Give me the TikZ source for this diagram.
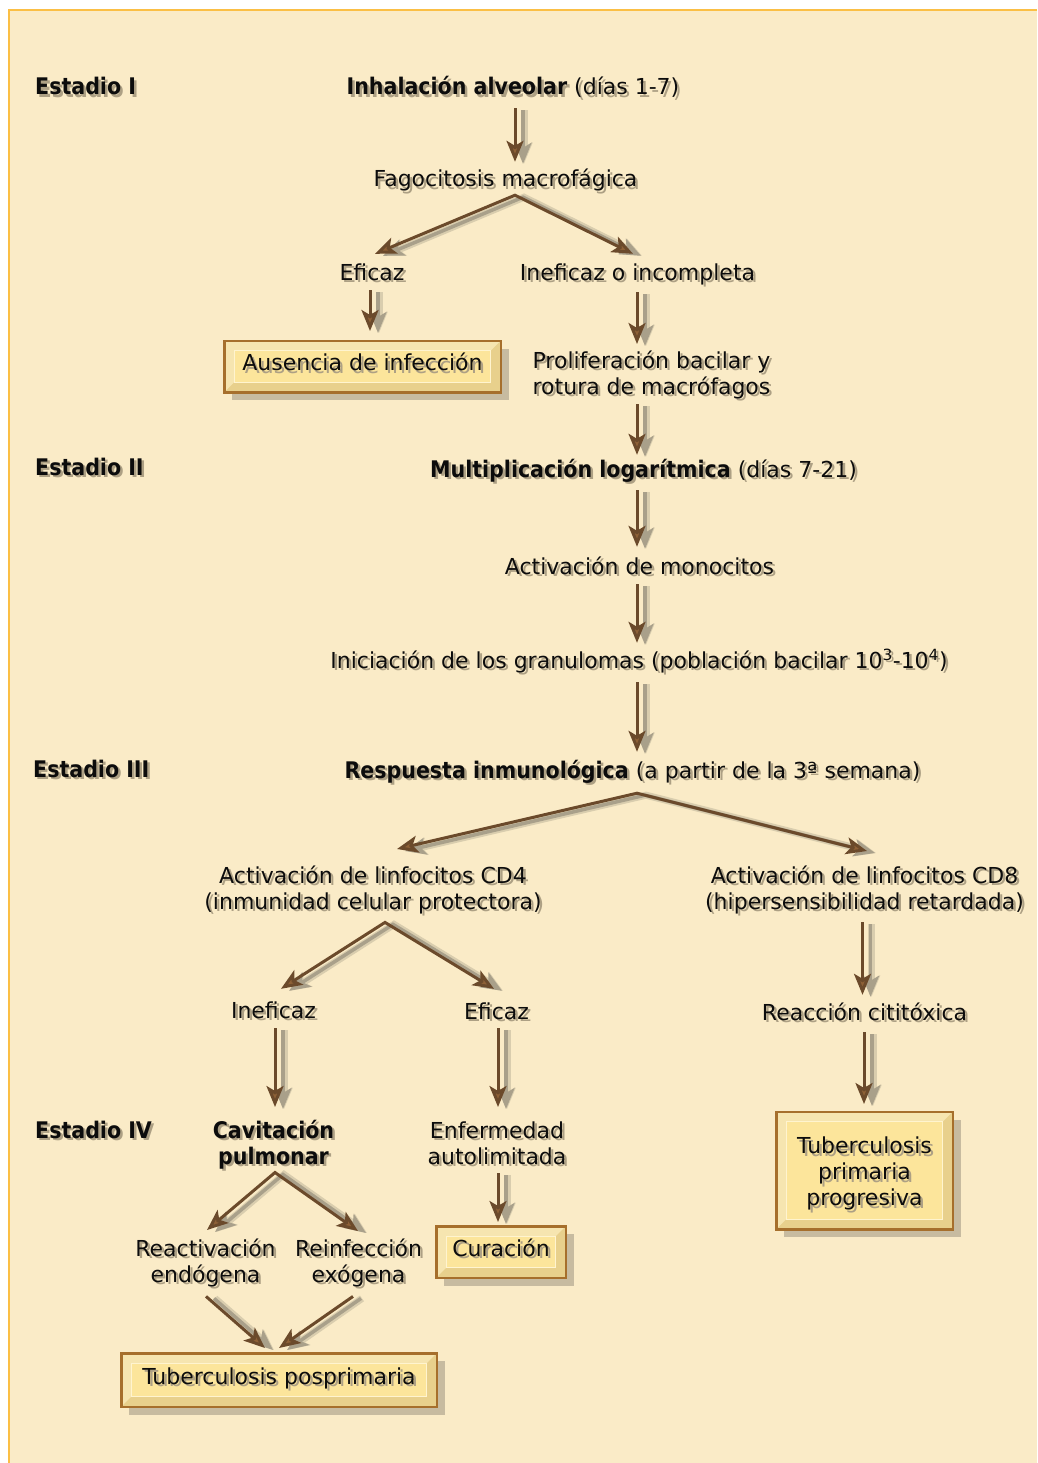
\documentclass[tikz,border=0pt]{standalone}
\usepackage{fontspec}
\setmainfont{DejaVu Sans}[BoldFont={DejaVu Sans Condensed Bold},BoldFeatures={Scale=1.04}]
\usetikzlibrary{arrows.meta,shadows,calc}

\definecolor{bgcream}{HTML}{FAEBC7}
\definecolor{edgeline}{HTML}{FBBF45}
\definecolor{ink}{HTML}{0C0C0C}
\definecolor{arrbrown}{HTML}{6B4A2B}
\definecolor{headbrown}{HTML}{8E6137}
\definecolor{tshadow}{HTML}{ADA084}
\definecolor{ashadow}{HTML}{A9A08A}
\definecolor{ashadowsoft}{HTML}{D9CDAE}
\definecolor{frame}{HTML}{A66F2C}
\definecolor{bevellight}{HTML}{F6E5B0}
\definecolor{beveldark}{HTML}{E8D08C}
\definecolor{boxin}{HTML}{FCE59B}
\definecolor{innerline}{HTML}{FFF4CF}
\definecolor{boxshadow}{HTML}{A59C86}

\newcommand\fs{\fontsize{22}{26}\selectfont}
% text with a soft drop shadow
\newcommand\shd[1]{\leavevmode\rlap{\kern2.5pt\raisebox{-2.5pt}{\color{tshadow}#1}}#1\strut}

\begin{document}
\begin{tikzpicture}[x=1pt,y=-1pt,
  one/.style={inner sep=0pt, anchor=base, font=\fs, text=ink, text height=16pt, text depth=5pt},
  two/.style={inner sep=0pt, anchor=north, align=center, font=\fs, text=ink},
  stage/.style={inner sep=0pt, anchor=base west, font=\fs\bfseries, text=ink},
  arr/.style={draw=arrbrown, line width=3pt, -{Stealth[length=21pt,width=17pt,inset=5pt,fill=headbrown]},
    preaction={draw=ashadowsoft, line width=7pt, -{Stealth[length=21pt,width=17pt,inset=5pt,fill=ashadowsoft]},
      transform canvas={shift={(9pt,-2pt)}}},
    preaction={draw=ashadow, line width=3.5pt, -{Stealth[length=21pt,width=17pt,inset=5pt,fill=ashadow]},
      transform canvas={shift={(8pt,-2pt)}}}},
  fork/.style={draw=arrbrown, line width=3pt, line join=miter,
    {Stealth[length=21pt,width=17pt,inset=5pt,fill=headbrown]}-{Stealth[length=21pt,width=17pt,inset=5pt,fill=headbrown]},
    preaction={draw=ashadowsoft, line width=7pt,
      {Stealth[length=21pt,width=17pt,inset=5pt,fill=ashadowsoft]}-{Stealth[length=21pt,width=17pt,inset=5pt,fill=ashadowsoft]},
      transform canvas={shift={(9pt,-2pt)}}},
    preaction={draw=ashadow, line width=3.5pt,
      {Stealth[length=21pt,width=17pt,inset=5pt,fill=ashadow]}-{Stealth[length=21pt,width=17pt,inset=5pt,fill=ashadow]},
      transform canvas={shift={(8pt,-2pt)}}}},
  bevelbox/.style={draw=frame, line width=2.5pt, fill=bevellight, font=\fs, text=ink,
    inner sep=0pt, text height=16pt, text depth=8pt,
    drop shadow={shadow xshift=8pt, shadow yshift=-8pt, fill=boxshadow, opacity=.6},
    path picture={
      \fill[beveldark] (path picture bounding box.south west)
        -- ([shift={(10pt,10pt)}]path picture bounding box.south west)
        -- ([shift={(-10pt,10pt)}]path picture bounding box.south east)
        -- ([shift={(-10pt,-10pt)}]path picture bounding box.north east)
        -- (path picture bounding box.north east)
        -- (path picture bounding box.south east) -- cycle;
      \draw[fill=boxin, draw=innerline, line width=1pt]
        ([shift={(10pt,-10pt)}]path picture bounding box.north west)
        rectangle ([shift={(-10pt,10pt)}]path picture bounding box.south east);
    }}
]
\useasboundingbox (0,0) rectangle (1037,1463);
% sheet
\fill[white] (0,0) rectangle (1037,1463);
\fill[bgcream] (9,10) rectangle (1037,1463);
\draw[edgeline, line width=1.5pt] (9,1463) -- (9,10) -- (1037,10);

% stages
\node[stage] (st1) at (35,95) {\shd{Estadio I}};
\node[stage] (st2) at (35,475) {\shd{Estadio II}};
\node[stage] (st3) at (33,777) {\shd{Estadio III}};
\node[stage] (st4) at (35,1138) {\shd{Estadio IV}};

% stage I
\node[one] (inh) at (513,95) {\shd{\textbf{Inhalación alveolar} (días 1-7)}};
\node[one] (fag) at (505.5,187) {\shd{Fagocitosis macrofágica}};
\node[one] (efi1) at (372,280) {\shd{Eficaz}};
\node[one] (inef1) at (637.5,280) {\shd{Ineficaz o incompleta}};
\node[bevelbox, minimum width=276.5pt, minimum height=51.5pt] (aus) at (362.5,366.5) {\shd{Ausencia de infección}};
\node[two] (prol) at (651.5,349.8) {\shd{Proliferación bacilar y}\\\shd{rotura de macrófagos}};

% stage II
\node[one] (mult) at (643.5,477) {\shd{\textbf{Multiplicación logarítmica} (días 7-21)}};
\node[one] (mono) at (639.5,574) {\shd{Activación de monocitos}};
\node[one] (gran) at (639,668) {\shd{Iniciación de los granulomas (población bacilar 10\textsuperscript{3}-10\textsuperscript{4})}};

% stage III
\node[one] (resp) at (632.5,778) {\shd{\textbf{Respuesta inmunológica} (a partir de la 3ª semana)}};
\node[two] (cd4) at (373,864.8) {\shd{Activación de linfocitos CD4}\\\shd{(inmunidad celular protectora)}};
\node[two] (cd8) at (864.5,864.8) {\shd{Activación de linfocitos CD8}\\\shd{(hipersensibilidad retardada)}};
\node[one] (inef2) at (273.5,1018) {\shd{Ineficaz}};
\node[one] (efi2) at (496.5,1019) {\shd{Eficaz}};
\node[one] (cito) at (864.5,1020) {\shd{Reacción cititóxica}};

% stage IV
\node[two] (cav) at (273.5,1119.8) {\shd{\textbf{Cavitación}}\\\shd{\textbf{pulmonar}}};
\node[two] (enf) at (497,1119.8) {\shd{Enfermedad}\\\shd{autolimitada}};
\node[bevelbox, minimum width=129.5pt, minimum height=51.5pt] (cur) at (501,1252) {\shd{Curación}};
\node[two] (react) at (205.5,1237.8) {\shd{Reactivación}\\\shd{endógena}};
\node[two] (reinf) at (358.5,1237.8) {\shd{Reinfección}\\\shd{exógena}};
\node[bevelbox, minimum width=315.5pt, minimum height=53.5pt] (pos) at (279,1380) {\shd{Tuberculosis posprimaria}};
\node[bevelbox, align=center, text height=70pt, text depth=0pt, minimum width=176.5pt, minimum height=117.5pt] (prog) at (864.5,1170.5)
  {\shd{Tuberculosis}\\\shd{primaria}\\\shd{progresiva}};

% connectors
\draw[arr] ([xshift=2pt,yshift=-8pt]inh.south) -- ([xshift=9.5pt,yshift=9pt]fag.north);
\coordinate (fagfork) at ([xshift=9.5pt,yshift=-3pt]fag.south);
\draw[fork] ([xshift=3pt,yshift=10pt]efi1.north) -- (fagfork) -- ([xshift=-4.5pt,yshift=10pt]inef1.north);
\draw[arr] ([xshift=-2pt,yshift=-5pt]efi1.south) -- ([xshift=7.5pt,yshift=8.5pt]aus.north);
\draw[arr] ([xshift=-0.5pt,yshift=-7pt]inef1.south) -- ([xshift=-14.5pt,yshift=5.8pt]prol.north);
\draw[arr] ([xshift=-14.5pt,yshift=-2.2pt]prol.south) -- ([xshift=-6.5pt,yshift=6pt]mult.north);
\draw[arr] ([xshift=-6.5pt,yshift=-8pt]mult.south) -- ([xshift=-2.5pt,yshift=11pt]mono.north);
\draw[arr] ([xshift=-2.5pt,yshift=-5pt]mono.south) -- ([xshift=-2pt,yshift=9pt]gran.north);
\draw[arr] ([xshift=-2pt,yshift=-9pt]gran.south) -- ([xshift=4.5pt,yshift=10pt]resp.north);
\coordinate (respfork) at ([xshift=4.5pt,yshift=-10pt]resp.south);
\draw[fork] ([xshift=24pt,yshift=15.8pt]cd4.north) -- (respfork) -- ([xshift=2.5pt,yshift=13.8pt]cd8.north);
\coordinate (cdfork) at ([xshift=12pt,yshift=-5.2pt]cd4.south);
\draw[fork] ([xshift=7.5pt,yshift=13pt]inef2.north) -- (cdfork) -- ([xshift=-2.5pt,yshift=14pt]efi2.north);
\draw[arr] ([xshift=-2pt,yshift=-5.2pt]cd8.south) -- ([xshift=-2pt,yshift=9pt]cito.north);
\draw[arr] ([xshift=1.5pt,yshift=-5pt]inef2.south) -- ([xshift=1.5pt,yshift=12.8pt]cav.north);
\draw[arr] ([xshift=1.5pt,yshift=-4pt]efi2.south) -- ([xshift=1pt,yshift=12.8pt]enf.north);
\draw[arr] ([xshift=-0.5pt,yshift=-7pt]cito.south) -- ([xshift=-0.5pt,yshift=6.5pt]prog.north);
\coordinate (cavfork) at ([xshift=1.5pt,yshift=-0.2pt]cav.south);
\draw[fork] ([xshift=1.5pt,yshift=7.8pt]react.north) -- (cavfork) -- ([xshift=-0.5pt,yshift=6.8pt]reinf.north);
\draw[arr] ([xshift=1pt,yshift=-1pt]enf.south) -- ([xshift=-3pt,yshift=3pt]cur.north);
\draw[arr] ([xshift=0.5pt,yshift=-6.2pt]react.south) -- ([xshift=-14pt,yshift=4pt]pos.north);
\draw[arr] ([xshift=-5.5pt,yshift=-6.2pt]reinf.south) -- ([xshift=0pt,yshift=4pt]pos.north);
\end{tikzpicture}
\end{document}
